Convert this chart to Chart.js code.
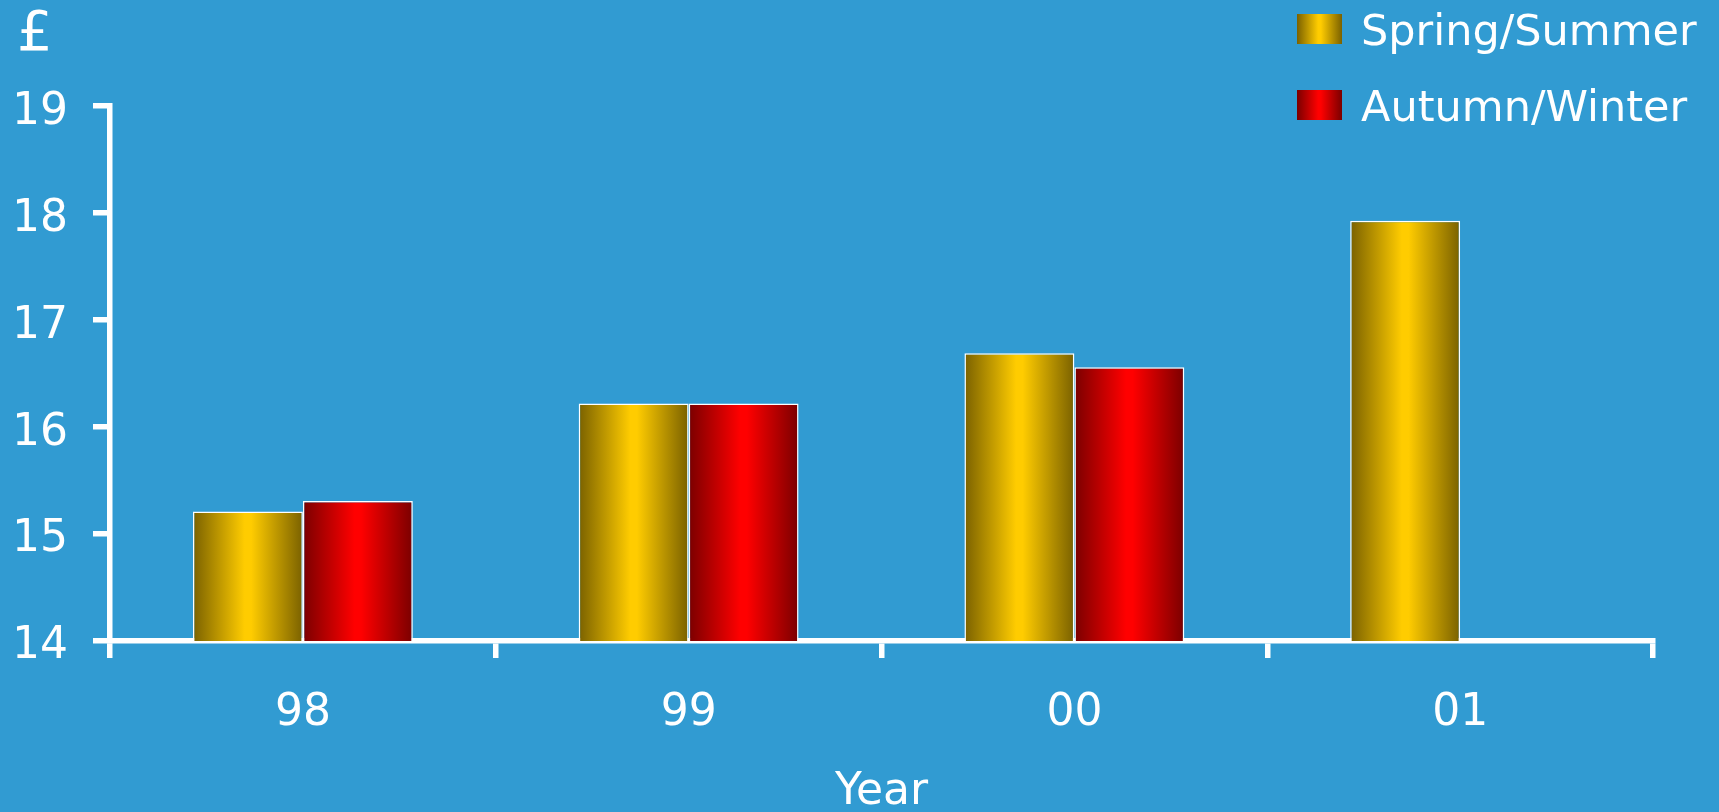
<!DOCTYPE html>
<html>
<head>
<meta charset="utf-8">
<title>Average price by season</title>
<script src="https://cdn.jsdelivr.net/npm/chart.js@4.4.1/dist/chart.umd.min.js"></script>
<style>
  html, body { margin: 0; padding: 0; background: #319bd2; }
  #wrap { width: 1719px; height: 812px; position: relative; }
</style>
</head>
<body>
<div id="wrap"><canvas id="priceChart"></canvas></div>
<script>
// Price per season, by year
const years = ['98', '99', '00', '01'];
const springSummer = [15.21, 16.22, 16.69, 17.93];
const autumnWinter = [15.31, 16.22, 16.56, null];
const seasonLabels = ['Spring/Summer', 'Autumn/Winter'];
const yTicks = [14, 15, 16, 17, 18, 19];

const FONT = "'DejaVu Sans', Verdana, sans-serif";
const WHITE = '#ffffff';
const CATEGORY_PCT = 0.57;

// dark edges, bright middle - gives the bars a lit cylinder look
const goldStops = ['#7a6100', '#ffcc00', '#7a6100'];
const redStops = ['#7a0000', '#ff0000', '#7a0000'];
const seasonStops = [goldStops, redStops];

function shade(ctx, x0, x1, stops) {
    const g = ctx.createLinearGradient(x0, 0, x1, 0);
    g.addColorStop(0, stops[0]);
    g.addColorStop(0.47, stops[1]);
    g.addColorStop(0.53, stops[1]);
    g.addColorStop(1, stops[2]);
    return g;
}

// Scriptable fill: works out each bar's horizontal extent from the x scale
function barFill(stops) {
    return function (context) {
        const chart = context.chart;
        const xScale = chart.scales.x;
        if (context.type !== 'data' || !chart.chartArea || !xScale) return stops[1];
        const n = chart.data.datasets.length;
        const groupW = xScale.width / chart.data.labels.length * CATEGORY_PCT;
        const barW = groupW / n;
        const left = xScale.getPixelForValue(context.dataIndex) - groupW / 2 + context.datasetIndex * barW;
        return shade(chart.ctx, left, left + barW, stops);
    };
}

// Legend stacked in the top right corner, over the plot
const seasonLegend = {
    id: 'seasonLegend',
    afterDraw(chart, args, opts) {
        const ctx = chart.ctx;
        ctx.save();
        ctx.font = opts.size + 'px ' + FONT;
        ctx.textBaseline = 'middle';
        chart.data.datasets.forEach((ds, i) => {
            const top = opts.top + i * opts.rowGap;
            ctx.fillStyle = shade(ctx, opts.left, opts.left + opts.boxW, seasonStops[i]);
            ctx.fillRect(opts.left, top, opts.boxW, opts.boxH);
            ctx.fillStyle = WHITE;
            ctx.fillText(ds.label, opts.left + opts.boxW + opts.gap, top + opts.boxH / 2 + 5);
        });
        ctx.restore();
    }
};

const axisGrid = {
    drawOnChartArea: false,
    color: WHITE,
    lineWidth: 5.5,
    tickLength: 17
};

const ctx = document.getElementById('priceChart').getContext('2d');
const chart = new Chart(ctx, {
    type: 'bar',
    data: {
        labels: years,
        datasets: [{
            label: seasonLabels[0],
            data: springSummer,
            backgroundColor: barFill(goldStops),
            borderColor: WHITE,
            borderWidth: 1.5
        }, {
            label: seasonLabels[1],
            data: autumnWinter,
            backgroundColor: barFill(redStops),
            borderColor: WHITE,
            borderWidth: 1.5
        }]
    },
    options: {
        responsive: true,
        maintainAspectRatio: false,
        animation: false,
        datasets: {
            bar: { categoryPercentage: CATEGORY_PCT, barPercentage: 1.0 }
        },
        layout: {
            padding: { top: 2, left: 17, right: 66, bottom: 0 }
        },
        scales: {
            x: {
                grid: axisGrid,
                border: { color: WHITE, width: 5.5 },
                // fixed band under the axis for tick labels and the title
                afterFit: scale => { scale.height = 171; },
                ticks: {
                    color: WHITE,
                    padding: 29,
                    font: { family: FONT, size: 44 }
                },
                title: {
                    display: true,
                    text: 'Year',
                    color: WHITE,
                    font: { family: FONT, size: 44, lineHeight: 0.9 },
                    padding: { top: 0, bottom: 0 }
                }
            },
            y: {
                min: yTicks[0],
                max: yTicks[yTicks.length - 1],
                afterBuildTicks: scale => {
                    scale.ticks = yTicks.map(v => ({ value: v }));
                },
                afterFit: scale => { scale.width = 93; },
                grid: axisGrid,
                border: { color: WHITE, width: 5.5 },
                ticks: {
                    color: WHITE,
                    padding: 25,
                    labelOffset: 6,
                    font: { family: FONT, size: 44 }
                }
            }
        },
        plugins: {
            legend: { display: false },
            tooltip: { enabled: false },
            title: {
                display: true,
                text: '£',
                align: 'start',
                color: WHITE,
                font: { family: FONT, size: 56, weight: 'normal' },
                padding: { top: 0, bottom: 37 }
            },
            seasonLegend: {
                left: 1297, top: 14, boxW: 45, boxH: 30, rowGap: 76, gap: 19, size: 43
            }
        }
    },
    plugins: [seasonLegend]
});
</script>
</body>
</html>
